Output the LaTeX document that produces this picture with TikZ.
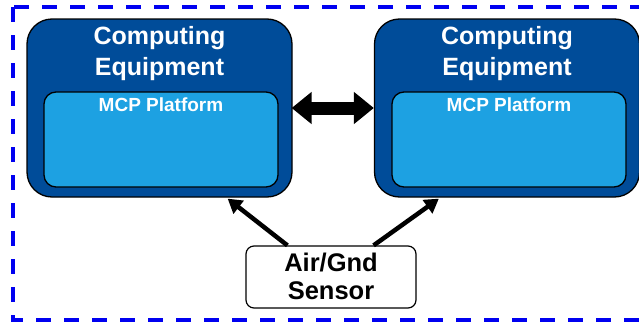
\documentclass[tikz,border=0pt]{standalone}
\usepackage{fontspec}
\setmainfont{Liberation Sans}
\usetikzlibrary{arrows.meta,calc}
\definecolor{darkblue}{RGB}{0,76,153}
\definecolor{lightblue}{RGB}{29,161,226}
\definecolor{framblue}{RGB}{0,0,240}
\tikzset{
  x=1pt, y=-1pt,
  equip/.style={draw=black, line width=1.3pt, fill=darkblue, rounded corners=25pt,
    minimum width=265pt, minimum height=178pt, inner sep=0pt},
  platform/.style={draw=black, line width=1.3pt, fill=lightblue, rounded corners=12pt,
    minimum width=234pt, minimum height=95pt, inner sep=0pt},
  sensorbox/.style={draw=black, line width=1.2pt, fill=white, rounded corners=8pt,
    minimum width=170pt, minimum height=62pt, inner sep=0pt},
  titletext/.style={text=white, font=\bfseries\fontsize{25}{28}\selectfont, inner sep=0pt, anchor=base},
  platformtext/.style={text=white, font=\bfseries\fontsize{19}{22}\selectfont, inner sep=0pt, anchor=base},
  sensortext/.style={text=black, font=\bfseries\fontsize{25.5}{28}\selectfont, inner sep=0pt, anchor=base},
  linkarrow/.style={line width=13pt, {Triangle[length=20pt,width=31pt]}-{Triangle[length=20pt,width=31pt]}},
  feedarrow/.style={line width=4.5pt, -{Triangle[length=14pt,width=16pt]}},
}
\begin{document}
\begin{tikzpicture}
\useasboundingbox (0,0) rectangle (639,324);
% system boundary
\draw[framblue, line width=4pt, dash pattern=on 15pt off 13pt] (13,7) rectangle (660,320);

% computing equipment
\node[equip] (lbox) at (159.5,108) {};
\node[equip] (rbox) at (507,108) {};
\node[platform] (lplat) at (161,139.5) {};
\node[platform] (rplat) at (509,139.5) {};

\node[titletext] (ltitle1) at ($(lbox.north)+(0,26)$) {Computing};
\node[titletext] (ltitle2) at ($(lbox.north)+(0,57)$) {Equipment};
\node[titletext] (rtitle1) at ($(rbox.north)+(0,26)$) {Computing};
\node[titletext] (rtitle2) at ($(rbox.north)+(0,57)$) {Equipment};

\node[platformtext] (lptext) at ($(lplat.north)+(0,20)$) {MCP Platform};
\node[platformtext] (rptext) at ($(rplat.north)+(0,20)$) {MCP Platform};

% sensor
\node[sensorbox] (sensor) at (331,277) {};
\node[sensortext] (stext1) at ($(sensor.north)+(0,26)$) {Air/Gnd};
\node[sensortext] (stext2) at ($(sensor.north)+(0,54)$) {Sensor};

% connectors
\draw[linkarrow] ($(lbox.east)+(-1,0)$) -- (rbox.west);
\coordinate (ltip) at ($(lbox.south east)+(-65,1)$);
\coordinate (rtip) at ($(rbox.south west)+(65,1)$);
\draw[feedarrow] ($(sensor.north west)+(42,0)$) -- (ltip);
\draw[feedarrow] ($(sensor.north east)+(-43,0)$) -- (rtip);
\end{tikzpicture}
\end{document}
